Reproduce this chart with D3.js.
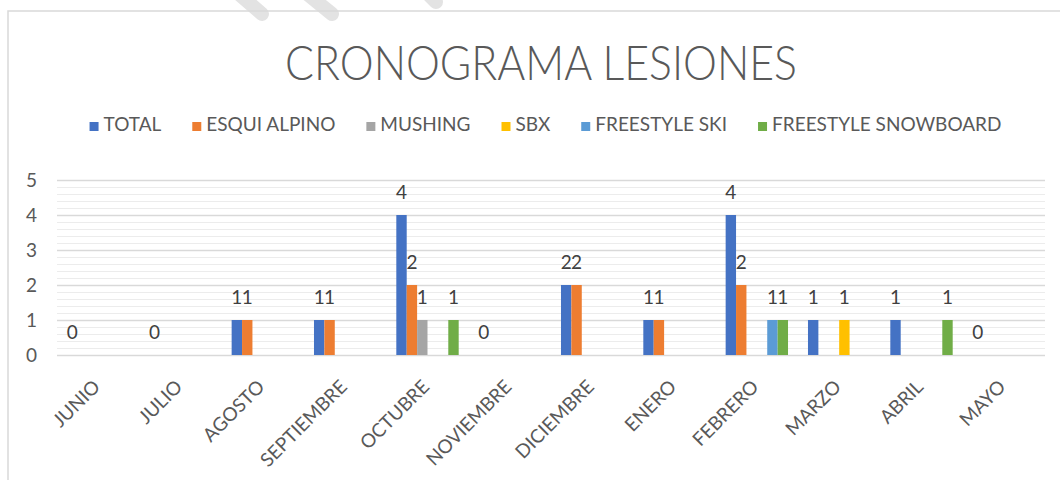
<!DOCTYPE html>
<html>
<head>
<meta charset="utf-8">
<script src="https://cdn.jsdelivr.net/npm/d3@7/dist/d3.min.js"></script>
<style>
  html, body { margin: 0; padding: 0; background: #fff; }
  svg { display: block; font-family: Lato, "Open Sans", sans-serif; }
</style>
</head>
<body>
<svg id="chart" width="1060" height="480"></svg>
<script>
const months = ["JUNIO","JULIO","AGOSTO","SEPTIEMBRE","OCTUBRE","NOVIEMBRE","DICIEMBRE","ENERO","FEBRERO","MARZO","ABRIL","MAYO"];
const seriesNames = ["TOTAL","ESQUI ALPINO","MUSHING","SBX","FREESTYLE SKI","FREESTYLE SNOWBOARD"];
const total      = [0, 0, 1, 1, 4, 0, 2, 1, 4, 1, 1, 0];
const esquiAlpino= [null, null, 1, 1, 2, null, 2, 1, 2, null, null, null];
const mushing    = [null, null, null, null, 1, null, null, null, null, null, null, null];
const sbx        = [null, null, null, null, null, null, null, null, null, 1, null, null];
const freeSki    = [null, null, null, null, null, null, null, null, 1, null, null, null];
const freeSnow   = [null, null, null, null, 1, null, null, null, 1, null, 1, null];
const yTicks = [0, 1, 2, 3, 4, 5];
const colors = ["#4472C4", "#ED7D31", "#A5A5A5", "#FFC000", "#5B9BD5", "#70AD47"];

const seriesValues = [total, esquiAlpino, mushing, sbx, freeSki, freeSnow];

const svg = d3.select("#chart");

// watermark stripes & chart frame
const wm = svg.append("g").attr("stroke", "#e3e3e3").attr("stroke-width", 14).attr("stroke-linecap", "round");
[[232, -12, 262, 14], [300, -12, 332, 14], [420, -14, 436, 2]].forEach(d => {
  wm.append("line").attr("x1", d[0]).attr("y1", d[1]).attr("x2", d[2]).attr("y2", d[3]);
});
svg.append("path").attr("d", "M8,480V11H1060").attr("fill", "none").attr("stroke", "#d9d9d9").attr("stroke-width", 1.5);

const pLeft = 57, pRight = 1045, pTop = 180, pBottom = 355;

const x0 = d3.scaleBand().domain(months).range([pLeft, pRight]).paddingInner(0).paddingOuter(0);
const x1 = d3.scaleBand().domain(seriesNames).range([0, x0.bandwidth()]).paddingInner(0).paddingOuter(0.96);
const y = d3.scaleLinear().domain([0, 5]).range([pBottom, pTop]);

// minor gridlines
const minor = d3.range(0, 5.0001, 0.2).filter(v => Math.abs(v - Math.round(v)) > 1e-6);
svg.append("g").selectAll("line").data(minor).join("line")
  .attr("x1", pLeft).attr("x2", pRight)
  .attr("y1", d => Math.round(y(d)) + 0.5).attr("y2", d => Math.round(y(d)) + 0.5)
  .attr("stroke", "#ececec").attr("stroke-width", 1);

// major gridlines via axis
const yAxis = d3.axisLeft(y).tickValues(yTicks).tickSize(-(pRight - pLeft)).tickFormat(d3.format("d")).tickPadding(20);
const yg = svg.append("g").attr("transform", `translate(${pLeft},0)`).call(yAxis);
yg.select(".domain").remove();
yg.selectAll(".tick line").attr("stroke", "#d9d9d9").attr("stroke-width", 1.5);
yg.selectAll(".tick text").attr("fill", "#595959").attr("font-size", 19).attr("font-family", "Lato, sans-serif");

// bars
const groups = svg.append("g").selectAll("g").data(seriesNames).join("g")
  .attr("fill", (d, i) => colors[i]);
groups.each(function(name, si) {
  const vals = seriesValues[si].map((v, mi) => ({ m: months[mi], v }));
  const g = d3.select(this);
  g.selectAll("rect").data(vals.filter(d => d.v !== null && d.v > 0)).join("rect")
    .attr("x", d => x0(d.m) + x1(name))
    .attr("width", x1.bandwidth())
    .attr("y", d => y(d.v))
    .attr("height", d => y(0) - y(d.v));
});

// data labels
const labels = [];
seriesValues.forEach((arr, si) => arr.forEach((v, mi) => {
  if (v !== null) labels.push({ m: months[mi], s: seriesNames[si], v });
}));
svg.append("g").selectAll("text").data(labels).join("text")
  .attr("x", d => x0(d.m) + x1(d.s) + x1.bandwidth() / 2)
  .attr("y", d => y(d.v) - 16)
  .attr("text-anchor", "middle")
  .attr("fill", "#404040").attr("font-size", 19)
  .text(d => d.v);

// x axis labels
const xAxis = d3.axisBottom(x0).tickSize(0).tickPadding(0);
const xg = svg.append("g").attr("transform", `translate(0,${pBottom})`).call(xAxis);
xg.select(".domain").remove();
xg.selectAll(".tick text")
  .attr("fill", "#595959").attr("font-size", 19).attr("font-family", "Lato, sans-serif")
  .attr("text-anchor", "end")
  .attr("dy", 0)
  .attr("transform", "translate(3,33) rotate(-45)");

// title
svg.append("text").attr("x", 541).attr("y", 80).attr("text-anchor", "middle")
  .attr("fill", "#595959").attr("font-size", 48).attr("font-weight", 300)
  .attr("textLength", 512).attr("lengthAdjust", "spacingAndGlyphs")
  .text("CRONOGRAMA LESIONES");

// legend
const lg = svg.append("g");
const items = lg.selectAll("g").data(seriesNames).join("g");
items.append("rect").attr("width", 9).attr("height", 9).attr("y", -9).attr("fill", (d, i) => colors[i]);
items.append("text").attr("x", 14).attr("y", 0).attr("fill", "#595959").attr("font-size", 19).text(d => d);
let cx = 0;
const pos = [];
items.each(function() {
  const w = d3.select(this).select("text").node().getComputedTextLength() + 14;
  pos.push(cx);
  cx += w + 31;
});
const totalW = cx - 31;
const startX = 545.5 - totalW / 2;
items.attr("transform", (d, i) => `translate(${startX + pos[i]},131)`);
</script>
</body>
</html>
